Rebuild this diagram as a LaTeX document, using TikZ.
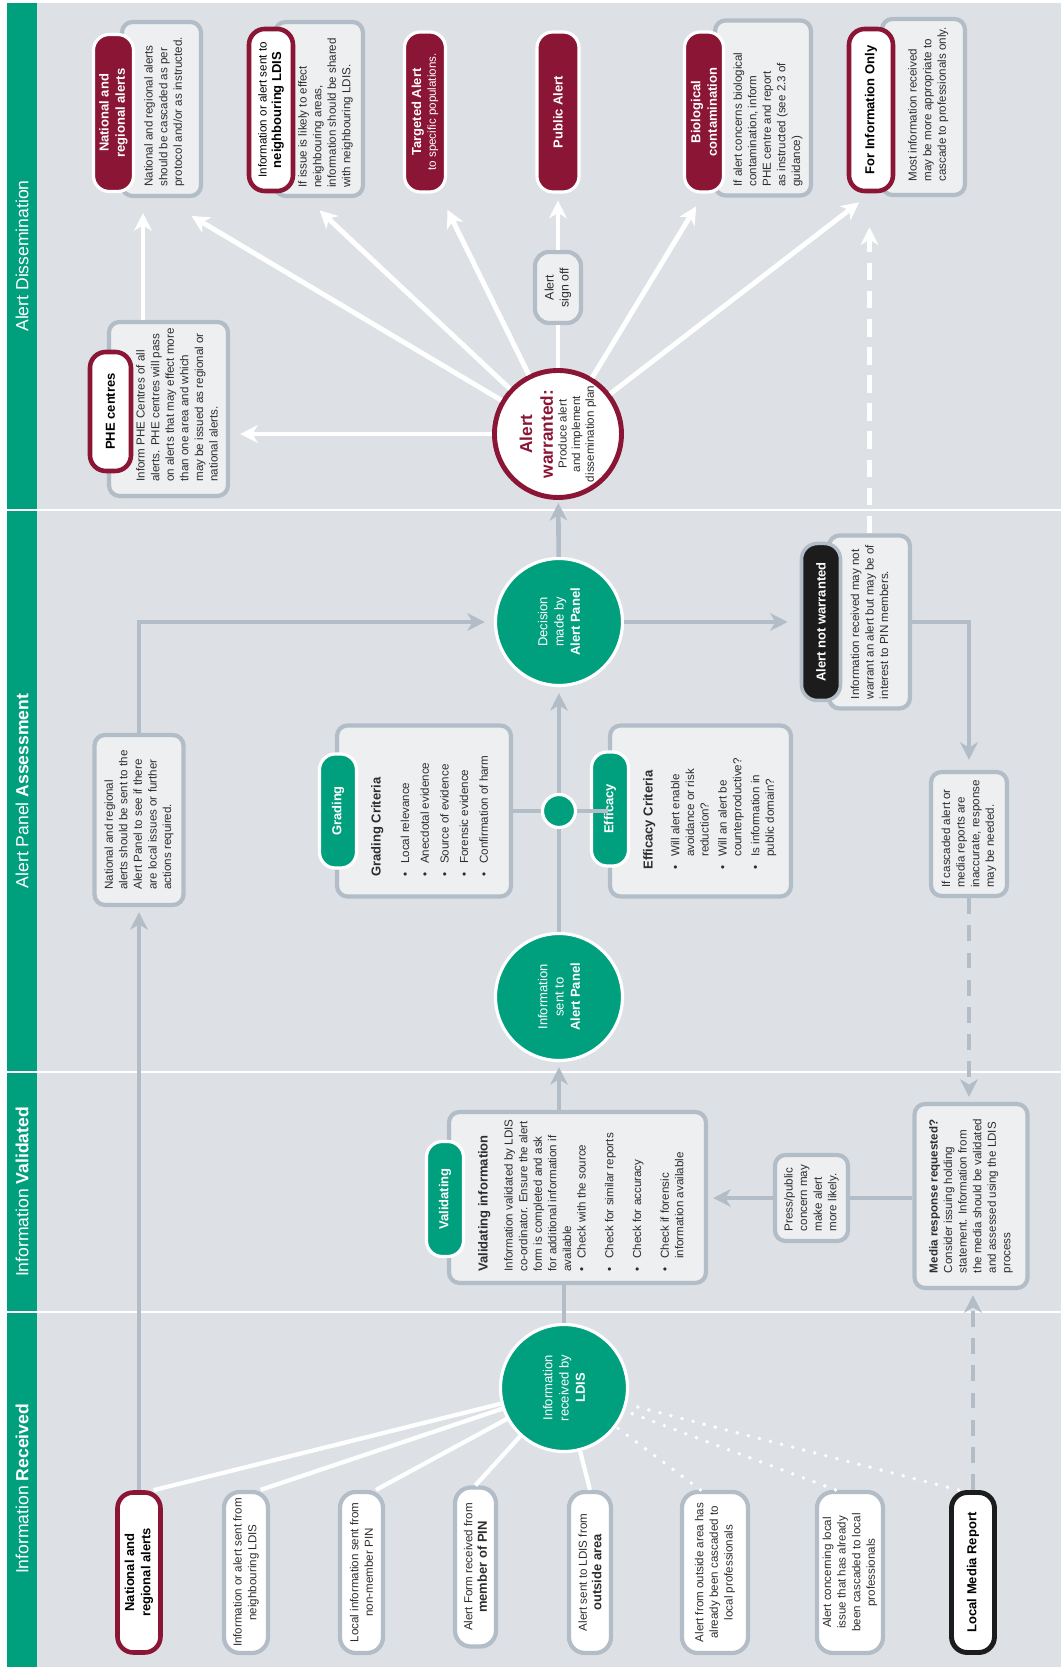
\documentclass[tikz,border=0pt]{standalone}
\usepackage{fontspec}
\setmainfont{Liberation Sans}
\usetikzlibrary{arrows.meta}

\definecolor{phegreen}{RGB}{0,160,126}
\definecolor{phered}{RGB}{138,21,52}
\definecolor{bggrey}{RGB}{221,225,229}
\definecolor{edgegrey}{RGB}{178,189,200}
\definecolor{boxfill}{RGB}{237,239,241}
\definecolor{inkgrey}{RGB}{45,45,45}
\definecolor{nearblack}{RGB}{28,28,28}

\newcommand\bodyfont{\fontsize{6.6}{8.3}\selectfont}
\newcommand\pillfont{\fontsize{7.4}{9.3}\selectfont}
\newcommand\bigred{\fontsize{9.8}{11}\selectfont\bfseries\color{phered}}

\tikzset{
  sz/.style 2 args={minimum width=#1*0.02cm, minimum height=#2*0.02cm},
  gbox/.style={draw=edgegrey, line width=2.4pt, fill=boxfill, rounded corners=6pt,
    inner sep=0pt, text=inkgrey, font=\bodyfont, align=left},
  redpill/.style={draw=white, line width=1.8pt, fill=phered, text=white,
    rounded corners=9pt, inner sep=0pt, align=center, font=\pillfont\bfseries},
  ringpill/.style={draw=phered, line width=2.6pt, fill=white, text=black,
    rounded corners=9pt, inner sep=0pt, align=center, font=\pillfont\bfseries},
  greenpill/.style={draw=white, line width=1.8pt, fill=phegreen, text=white,
    rounded corners=9pt, inner sep=0pt, font=\pillfont\bfseries},
  srcpill/.style={draw=edgegrey, line width=2.4pt, fill=white, text=inkgrey,
    rounded corners=9pt, inner sep=0pt, align=center, font=\bodyfont},
  stage/.style={circle, draw=white, line width=1.8pt, fill=phegreen, text=white,
    minimum size=127*0.02cm, inner sep=0pt, align=center, font=\pillfont},
  txt/.style={anchor=north west, inner sep=0pt, text=inkgrey, font=\bodyfont, align=left},
  band/.style={text=white, font=\fontsize{10}{12}\selectfont},
  warrow/.style={white, line width=2.8pt, -{Stealth[length=10pt, width=10pt, inset=3pt]}},
  wline/.style={white, line width=2.4pt},
  dotline/.style={white, line width=2.2pt, line cap=round, dash pattern=on 0pt off 6.5pt},
  garrow/.style={edgegrey, line width=2.6pt, -{Stealth[length=10pt, width=10pt, inset=3pt]}},
  gline/.style={edgegrey, line width=2.6pt},
}

\begin{document}
\begin{tikzpicture}[x=0.02cm, y=0.02cm, rotate=90, transform shape]
\useasboundingbox (0,0) rectangle (1667,1061);

% background, header band, section dividers
\fill[bggrey] (0,0) rectangle (1664,1024);
\fill[phegreen] (0,1024) rectangle (1664,1054);
\foreach \xd in {355,595,1157}
  \draw[white, line width=1.6pt] (\xd,0) -- (\xd,1054);
\node[band] (hdrec) at (178,1039) {Information \textbf{Received}};
\node[band] (hdval) at (475,1039) {Information \textbf{Validated}};
\node[band] (hdass) at (876,1039) {Alert Panel \textbf{Assessment}};
\node[band] (hddis) at (1411,1039) {Alert Dissemination};

% Information Received
\node[srcpill, draw=phered, line width=2.6pt, sz={160}{43}, font=\pillfont\bfseries, text=black] (natsrc) at (94.5,922) {National and\\regional alerts};
\node[srcpill, sz={161}{44}] (nbrsrc) at (94.5,815) {Information or alert sent from\\neighbouring LDIS};
\node[srcpill, sz={161}{43}] (npsrc) at (94.5,699.5) {Local information sent from\\non-member PIN};
\node[srcpill, sz={159}{41}] (pinsrc) at (100,585.5) {Alert Form received from\\{\pillfont\bfseries member of PIN}};
\node[srcpill, sz={161}{42}] (outsrc) at (94.5,471) {Alert sent to LDIS from\\{\pillfont\bfseries outside area}};
\node[srcpill, sz={161}{66}] (casc1src) at (94.5,346) {Alert from outside area has\\already been cascaded to\\local professionals};
\node[srcpill, sz={161}{66}] (casc2src) at (94.5,211) {Alert concerning local\\issue that has already\\been cascaded to local\\professionals};
\node[srcpill, draw=nearblack, line width=2.8pt, sz={160}{43}, font=\pillfont\bfseries, text=black] (mediasrc) at (94.5,88) {Local Media Report};
\node[stage] (recv) at (279,497) {Information\\received by\\\textbf{LDIS}};

% Information Validated
\node[gbox, sz={171}{257}] (validbox) at (469.5,483.5) {};
\node[greenpill, sz={115}{37}] (validpill) at (468,616) {Validating};
\node[txt] (validtxt) at (395,584) {\begin{tabular}{@{}l@{\hspace{5pt}}l@{}}
  \multicolumn{2}{@{}l@{}}{\pillfont\bfseries Validating information}\\[6pt]
  \multicolumn{2}{@{}l@{}}{Information validated by LDIS}\\
  \multicolumn{2}{@{}l@{}}{co-ordinator. Ensure the alert}\\
  \multicolumn{2}{@{}l@{}}{form is completed and ask}\\
  \multicolumn{2}{@{}l@{}}{for additional information if}\\
  \multicolumn{2}{@{}l@{}}{available}\\
  \textbullet & Check with the source\\[7.5pt]
  \textbullet & Check for similar reports\\[7.5pt]
  \textbullet & Check for accuracy\\[7.5pt]
  \textbullet & Check if forensic\\
  & information available
\end{tabular}};
\node[gbox, sz={86}{73}] (press) at (469,249.5) {Press/public\\concern may\\make alert\\more likely.};
\node[gbox, sz={184}{113}] (media) at (471,90) {\textbf{Media response requested?}\\Consider issuing holding\\statement. Information from\\the media should be validated\\and assessed using the LDIS\\process};

% Alert Panel Assessment
\node[stage] (infosent) at (670,502) {Information\\sent to\\\textbf{Alert Panel}};
\node[gbox, sz={171}{174}] (gradbox) at (856,637) {};
\node[greenpill, sz={114}{37}] (gradpill) at (856,723) {Grading};
\node[txt] (gradtxt) at (790,691) {\begin{tabular}{@{}l@{\hspace{5pt}}l@{}}
  \multicolumn{2}{@{}l@{}}{\pillfont\bfseries Grading Criteria}\\[8pt]
  \textbullet & Local relevance\\[2.9pt]
  \textbullet & Anecdotal evidence\\[2.9pt]
  \textbullet & Source of evidence\\[2.9pt]
  \textbullet & Forensic evidence\\[2.9pt]
  \textbullet & Confirmation of harm
\end{tabular}};
\node[gbox, sz={171}{181}] (effbox) at (856,360.5) {};
\node[greenpill, sz={114}{37}] (effpill) at (858,451) {Efficacy};
\node[txt] (efftxt) at (797,419) {\begin{tabular}{@{}l@{\hspace{5pt}}l@{}}
  \multicolumn{2}{@{}l@{}}{\pillfont\bfseries Efficacy Criteria}\\[7pt]
  \textbullet & Will alert enable\\
  & avoidance or risk\\
  & reduction?\\[2pt]
  \textbullet & Will an alert be\\
  & counterproductive?\\[2pt]
  \textbullet & Is information in\\
  & public domain?
\end{tabular}};
\node[gbox, sz={170}{89}] (natl2) at (847,922) {National and regional\\alerts should be sent to the\\Alert Panel to see if there\\are local issues or further\\actions required.};
\node[stage] (decision) at (1045,502) {Decision\\made by\\\textbf{Alert Panel}};
\node[gbox, sz={173}{81}] (notwbox) at (1045,191.5) {Information received may not\\warrant an alert but may be of\\interest to PIN members.};
\node[draw=edgegrey, line width=2pt, fill=nearblack, text=white, rounded corners=9pt,
  inner sep=0pt, font=\pillfont\bfseries, sz={157}{39}] (notwpill) at (1045,240) {Alert not warranted};
\node[gbox, sz={124}{76}] (cascade) at (833,92) {If cascaded alert or\\media reports are\\inaccurate, response\\may be needed.};

% Alert Dissemination
\node[circle, draw=phered, line width=2.8pt, fill=white, minimum size=127*0.02cm, inner sep=0pt,
  align=center, text=inkgrey, font=\fontsize{6.6}{7.8}\selectfont] (warr) at (1233,503) {{\bigred Alert}\\[4pt]{\bigred warranted:}\\Produce alert\\and implement\\dissemination plan};
\node[gbox, sz={174}{119}] (phebox) at (1258,892.5) {};
\node[ringpill, sz={119}{41}] (phepill) at (1255.5,950.5) {PHE centres};
\node[txt] (phetxt) at (1185,925) {Inform PHE Centres of all\\alerts. PHE centres will pass\\on alerts that may effect more\\than one area and which\\may be issued as regional or\\national alerts.};
\node[gbox, sz={71}{46}, align=center, font=\fontsize{7}{8.5}\selectfont, rounded corners=8pt] (signoff) at (1379.5,503) {Alert\\sign off};
\node[gbox, sz={174}{79}] (natbox) at (1558,899.5) {};
\node[redpill, sz={157}{40}] (natpill) at (1554,947.5) {National and\\regional alerts};
\node[txt] (nattxt) at (1480,917) {National and regional alerts\\should be cascaded as per\\protocol and/or as instructed.};
\node[gbox, sz={174}{88}] (nbrbox) at (1558,742) {};
\node[ringpill, sz={162}{44}, font=\bodyfont] (nbrpill) at (1557,790) {Information or alert sent to\\{\pillfont\bfseries neighbouring LDIS}};
\node[txt] (nbrtxt) at (1479,763) {If issue is likely to effect\\neighbouring areas,\\information should be shared\\with neighbouring LDIS.};
\node[redpill, sz={160}{41}, font=\bodyfont] (tgtpill) at (1555,636) {{\pillfont\bfseries Targeted Alert}\\to specific populations.};
\node[redpill, sz={160}{42}] (pubpill) at (1555,503) {Public Alert};
\node[gbox, sz={175}{96}] (biobox) at (1559,298) {};
\node[redpill, sz={160}{39}] (biopill) at (1555,357) {Biological\\contamination};
\node[txt] (biotxt) at (1480,328) {If alert concerns biological\\contamination, inform\\PHE centre and report\\as instructed (see 2.3 of\\guidance)};
\node[gbox, sz={176}{83}] (infobox) at (1560,137.5) {};
\node[ringpill, sz={162}{44}] (infopill) at (1557,190) {For Information Only};
\node[txt] (infotxt) at (1485,153) {Most information received\\may be more appropriate to\\cascade to professionals only.};

% sources into LDIS
\draw[wline] (natsrc.-10) -- (recv);
\draw[wline] (nbrsrc.-10) -- (recv);
\draw[wline] (npsrc.-10) -- (recv);
\draw[wline] (pinsrc.east) -- (recv);
\draw[wline] (outsrc.east) -- (recv);
\draw[dotline] (casc1src.10) -- (recv);
\draw[dotline] (casc2src.10) -- (recv);
\draw[dotline] (mediasrc.10) -- (recv);

% grey flow
\draw[garrow, shorten >=0.1cm] (natsrc.east) -- (natl2.west);
\draw[gline] (recv.east) -- (recv.east -| validbox.west);
\draw[garrow, shorten >=0.1cm] (validbox.east |- infosent) -- (infosent);
\draw[garrow, dash pattern=on 9pt off 6.5pt, shorten >=0.1cm] (mediasrc.east) -- (mediasrc.east -| media.west);
\draw[gline] (press.south) -- (press.south |- media.north);
\draw[garrow, shorten >=0.1cm] (press.north) -- (press.north |- validbox.south);
\draw[gline] (gradbox.south) -- (effbox.north);
\draw[garrow, shorten >=0.12cm] (infosent) -- (decision);
\draw[garrow, shorten >=0.18cm] (natl2.east) -| (decision.north);
\draw[garrow, shorten >=0.24cm] (decision) -- (notwpill);
\draw[garrow, shorten >=0.2cm] (notwbox.south) |- (cascade.east);
\draw[garrow, dash pattern=on 9pt off 6.5pt, shorten >=0.1cm] (cascade.west) -- (cascade.west -| media.east);
\draw[garrow, shorten >=0.06cm] (decision) -- (warr);

% white dissemination arrows
\draw[warrow, shorten >=0.2cm] (warr) -- (warr |- phebox.south);
\draw[warrow, shorten >=0.3cm] (phebox.east |- 0,918) -- (natbox.west |- 0,918);
\draw[warrow, shorten >=0.7cm] (warr) -- (natbox.west);
\draw[warrow, shorten >=0.36cm] (warr) -- (nbrbox.172);
\draw[warrow, shorten >=0.36cm] (warr) -- (tgtpill.190);
\draw[wline, line width=2.8pt] (warr) -- (signoff);
\draw[warrow, shorten >=0.14cm] (signoff) -- (pubpill);
\draw[warrow, shorten >=0.3cm] (warr) -- (biopill.west);
\draw[warrow, shorten >=0.3cm] (warr) -- (infopill.west);
\draw[warrow, dash pattern=on 10pt off 6pt, shorten >=0.68cm] (notwbox.east) -- (notwbox.east -| infopill.west);

\node[stage, minimum size=33*0.02cm] (critdot) at (856,502) {};
\end{tikzpicture}
\end{document}
